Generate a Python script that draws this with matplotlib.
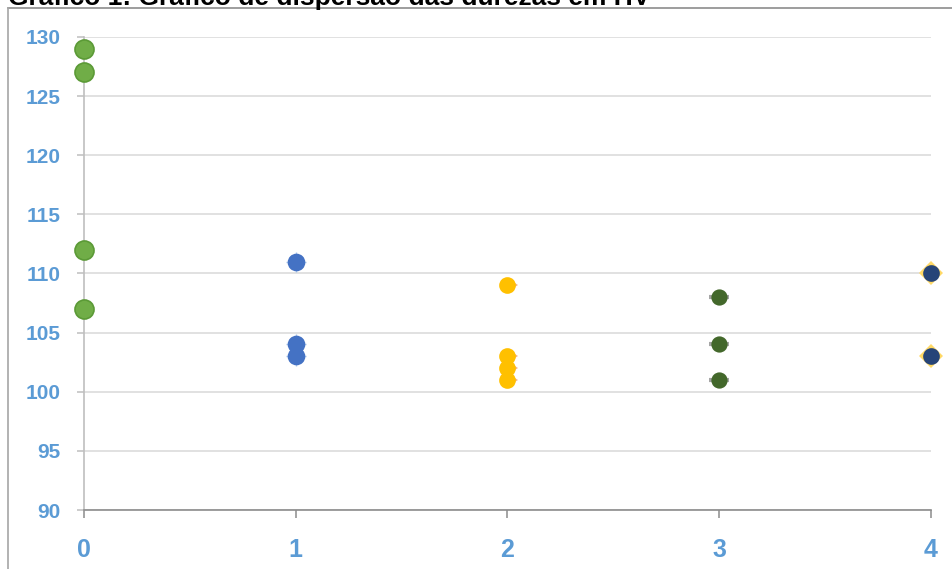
import matplotlib
matplotlib.use("Agg")
import matplotlib.pyplot as plt
from matplotlib.lines import Line2D

plt.rcParams['font.family'] = ['Liberation Sans', 'DejaVu Sans']

# Hardness readings (HV) for each sample group
groups = [0, 1, 2, 3, 4]
hardness = [
    [129, 127, 112, 107],
    [111, 104, 103],
    [109, 103, 102, 101],
    [108, 104, 101],
    [110, 103],
]
colors = ['#70AD47', '#4472C4', '#FFC000', '#43682B', '#264478']
edge_colors = ['#5B9A36', '#4472C4', '#FFC000', '#43682B', '#264478']
# faint secondary marks drawn behind the points
halo_colors = [None, '#A9C6EA', '#F4B183', '#A5A5A5', '#FFD966']
halo_markers = [None, '+', 9, '_', 'D']
halo_scale = [None, 1.25, 0.95, 1.35, 1.1]
halo_width = [None, 1.0, 0, 3.0, 0]
marker_sizes = [13.7, 11.5, 10.8, 10.5, 10.8]

y_ticks = [90, 95, 100, 105, 110, 115, 120, 125, 130]
x_ticks = [0, 1, 2, 3, 4]
title = 'Gráfico 1: Gráfico de dispersão das durezas em HV'

W, H = 953, 569
fig = plt.figure(figsize=(W / 100, H / 100), dpi=100)
ax = fig.add_axes([84 / W, 1 - 510 / H, (931 - 84) / W, (510 - 37) / H])

label_color = '#5B9BD5'

for g, vals, c, ec, hc, hm, hs, hw, ms in zip(groups, hardness, colors, edge_colors,
                                              halo_colors, halo_markers, halo_scale,
                                              halo_width, marker_sizes):
    xs = [g] * len(vals)
    if hc is not None:
        ax.plot(xs, vals, linestyle='none', marker=hm, markersize=ms * hs,
                color=hc, markeredgecolor=hc, markeredgewidth=hw,
                clip_on=False, zorder=3)
    ax.plot(xs, vals, linestyle='none', marker='o', markersize=ms,
            markerfacecolor=c, markeredgecolor=ec, markeredgewidth=1.2,
            clip_on=False, zorder=4)

ax.set_xlim(0, 4)
ax.set_ylim(90, 130)
ax.set_yticks(y_ticks)
ax.set_xticks(x_ticks)

ax.grid(axis='y', color='#D9D9D9', linewidth=1.1)
ax.set_axisbelow(True)

for s in ['top', 'right']:
    ax.spines[s].set_visible(False)
ax.spines['left'].set_color('#BFBFBF')
ax.spines['left'].set_linewidth(1.2)
ax.spines['bottom'].set_color('#8C8C8C')
ax.spines['bottom'].set_linewidth(1.2)

ax.tick_params(axis='y', length=5, width=1.1, color='#BFBFBF', pad=12,
               labelsize=15, labelcolor=label_color)
ax.tick_params(axis='x', length=6, width=1.1, color='#8C8C8C', pad=14,
               labelsize=18, labelcolor=label_color)
for lab in ax.get_xticklabels() + ax.get_yticklabels():
    lab.set_fontweight('bold')

# chart frame
fig.add_artist(Line2D([8 / W, 952 / W], [1 - 8 / H, 1 - 8 / H],
                      transform=fig.transFigure, color='#8C8C8C', linewidth=1.2))
fig.add_artist(Line2D([8 / W, 8 / W], [0, 1 - 8 / H],
                      transform=fig.transFigure, color='#A6A6A6', linewidth=1.2))

fig.text(8 / W, 1 - 4.5 / H, title, fontsize=19, fontweight='bold',
         color='black', ha='left', va='baseline')

fig.savefig('out.png', dpi=100)
